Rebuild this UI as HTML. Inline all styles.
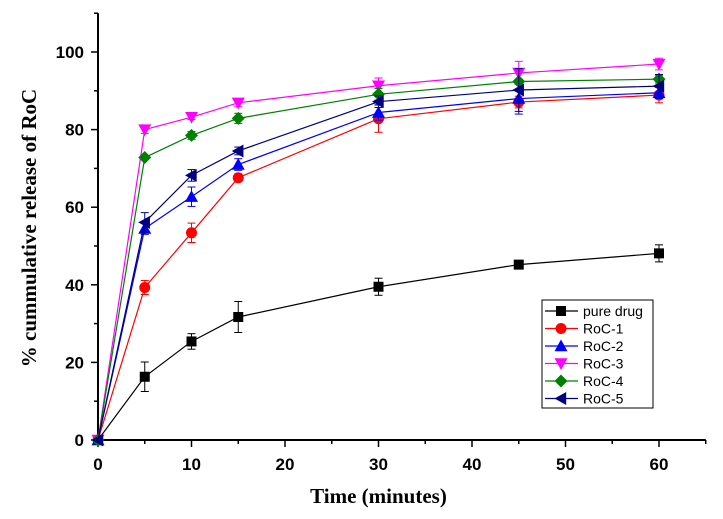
<!DOCTYPE html>
<html><head><meta charset="utf-8"><style>body{margin:0;background:#fff}svg{display:block}</style></head>
<body>
<svg id="c" width="723" height="519" xmlns="http://www.w3.org/2000/svg"></svg>
<script>
const times=[0,5,10,15,30,45,60];
const pureDrug=[0,16.3,25.4,31.7,39.5,45.2,48.1];
const pureErr=[0,3.8,2,4,2.2,1,2.2];
const roc1=[0,39.3,53.4,67.6,82.8,87.1,88.9];
const roc1Err=[0,1.8,2.5,1,3.5,1.5,2];
const roc2=[0,54.5,62.7,71,84.4,88,89.5];
const roc2Err=[0,1.5,2.5,1.5,2,4,1.5];
const roc3=[0,80,83.2,86.9,91.3,94.6,96.9];
const roc3Err=[0,1,0.6,1,2,3,1.5];
const roc4=[0,72.8,78.5,82.9,89.1,92.4,93];
const roc4Err=[0,0.5,1,1.3,1.5,0.6,1];
const roc5=[0,56.1,68.2,74.5,87.2,90.2,91.2];
const roc5Err=[0,2.5,1.5,1,1.5,5.5,3];
const xTicks=[0,10,20,30,40,50,60];
const yTicks=[0,20,40,60,80,100];
const seriesNames=["pure drug","RoC-1","RoC-2","RoC-3","RoC-4","RoC-5"];
const svg=document.getElementById('c');const NS='http://www.w3.org/2000/svg';
const X=v=>98+v*9.35, Y=v=>440-v*3.88;
function el(t,a,p){const e=document.createElementNS(NS,t);for(const k in a)e.setAttribute(k,a[k]);(p||svg).appendChild(e);return e;}
const ax=el('g',{});


el('line',{x1:X(0),y1:Y(0),x2:X(65),y2:Y(0),stroke:'#000','stroke-width':2},ax);
el('line',{x1:X(0),y1:Y(0),x2:X(0),y2:Y(110),stroke:'#000','stroke-width':2},ax);
for(let v=0;v<=65;v+=5){el('line',{x1:X(v),y1:Y(0),x2:X(v),y2:Y(0)+(v%10?4:7),stroke:'#000','stroke-width':1.5},ax);}
for(let v=0;v<=110;v+=10){el('line',{x1:X(0),y1:Y(v),x2:X(0)-(v%20?4:7),y2:Y(v),stroke:'#000','stroke-width':1.5},ax);}
xTicks.forEach(v=>{const t=el('text',{x:X(v),y:470,'text-anchor':'middle','font-family':'Liberation Sans,sans-serif','font-weight':'bold','font-size':17},ax);t.textContent=v;});
yTicks.forEach(v=>{const t=el('text',{x:84,y:Y(v)+6,'text-anchor':'end','font-family':'Liberation Sans,sans-serif','font-weight':'bold','font-size':17},ax);t.textContent=v;});
const xt=el('text',{x:X(30),y:503,'text-anchor':'middle','font-family':'Liberation Serif,serif','font-weight':'bold','font-size':21});xt.textContent='Time (minutes)';


const yt=el('text',{x:0,y:0,transform:'translate(36,228) rotate(-90)','text-anchor':'middle','font-family':'Liberation Serif,serif','font-weight':'bold','font-size':21});yt.textContent='% cummulative release of RoC';


function marker(type,x,y,col,p){const s=6.5;
 if(type==='sq')return el('rect',{x:x-5,y:y-5,width:10,height:10,fill:col},p);
 if(type==='ci')return el('circle',{cx:x,cy:y,r:5.5,fill:col},p);
 let pts;
 if(type==='up')pts=[[x,y-s],[x+s,y+s*0.8],[x-s,y+s*0.8]];
 else if(type==='dn')pts=[[x,y+s],[x+s,y-s*0.8],[x-s,y-s*0.8]];
 else if(type==='di')pts=[[x,y-s],[x+s,y],[x,y+s],[x-s,y]];
 else pts=[[x-s,y],[x+s*0.8,y-s],[x+s*0.8,y+s]];
 return el('polygon',{points:pts.map(p=>p.join(',')).join(' '),fill:col},p);}
const series=[[pureDrug,pureErr,'#000','sq'],[roc1,roc1Err,'#ff0000','ci'],[roc2,roc2Err,'#0000ff','up'],[roc3,roc3Err,'#ff00ff','dn'],[roc4,roc4Err,'#008000','di'],[roc5,roc5Err,'#000080','lt']];
series.forEach((s,i)=>{const [vals,errs,col,m]=s;const g=el('g',{});
 
 
 el('polyline',{points:vals.map((v,j)=>X(times[j])+','+Y(v)).join(' '),fill:'none',stroke:col,'stroke-width':1.2},g);
 vals.forEach((v,j)=>{const x=X(times[j]);if(errs[j]>0){el('line',{x1:x,y1:Y(v-errs[j]),x2:x,y2:Y(v+errs[j]),stroke:col,'stroke-width':1},g);
  [v-errs[j],v+errs[j]].forEach(e=>el('line',{x1:x-4,y1:Y(e),x2:x+4,y2:Y(e),stroke:col,'stroke-width':1},g));}
  const mk=marker(m,x,Y(v),col,g);
  
  });
});
const lg=el('g',{});


el('rect',{x:542,y:300,width:111,height:108,fill:'#fff',stroke:'#000','stroke-width':1},lg);
series.forEach((s,i)=>{const y=311+i*17.5;const e=el('g',{},lg);
 
 
 el('line',{x1:545,y1:y,x2:578,y2:y,stroke:s[2],'stroke-width':1.2},e);
 marker(s[3],561,y,s[2],e);
 const t=el('text',{x:583,y:y+5,'font-family':'Liberation Sans,sans-serif','font-size':14},e);t.textContent=seriesNames[i];});
</script>
</body></html>
